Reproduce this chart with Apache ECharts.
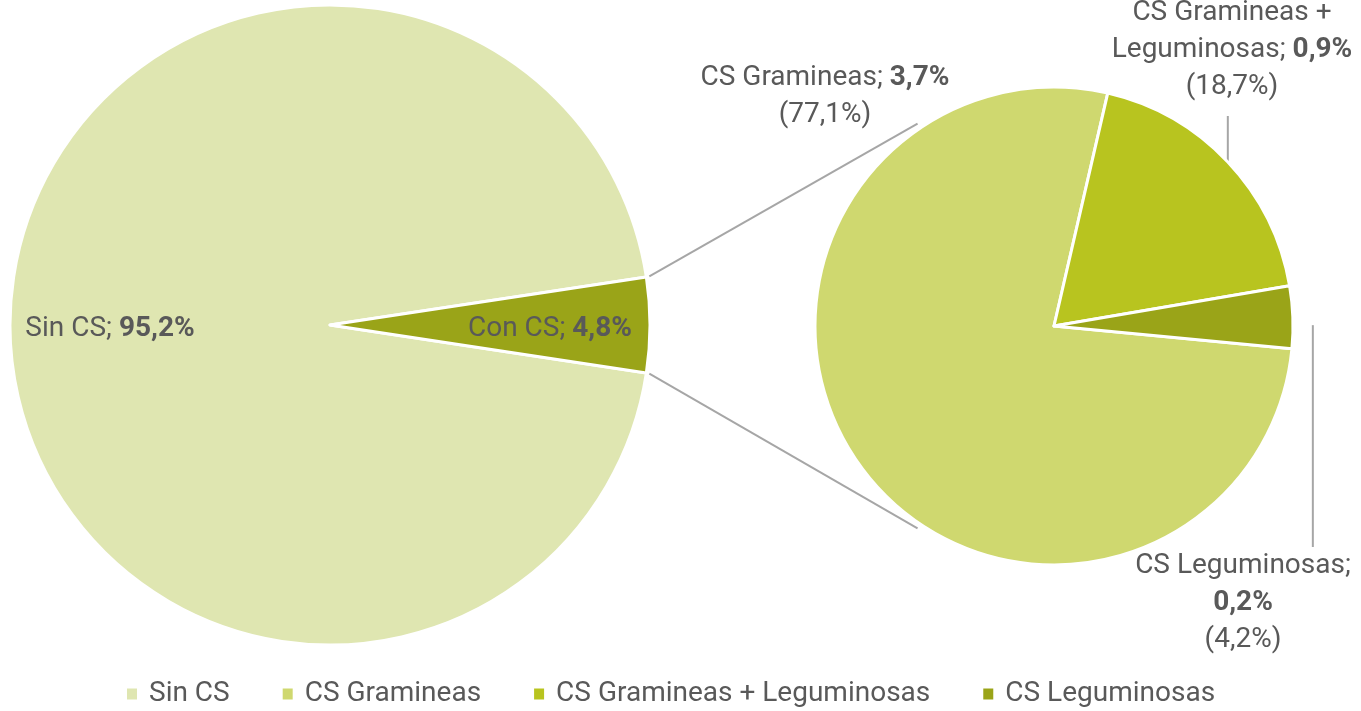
<!DOCTYPE html>
<html>
<head>
<meta charset="utf-8">
<script src="https://cdn.jsdelivr.net/npm/echarts@6/dist/echarts.min.js"></script>
<style>
  html, body { margin: 0; padding: 0; background: #fff; }
  #chart { width: 1361px; height: 711px; }
</style>
</head>
<body>
<div id="chart"></div>
<script>
// main pie
const mainNames = ['Sin CS', 'Con CS'];
const mainValues = [95.2, 4.8];
// breakdown of "Con CS"
const subNames = ['CS Gramineas', 'CS Gramineas + Leguminosas', 'CS Leguminosas'];
const subValues = [77.1, 18.7, 4.2];      // share inside Con CS
const subTotalShare = [3.7, 0.9, 0.2];    // share of the total
const legendNames = ['Sin CS', 'CS Gramineas', 'CS Gramineas + Leguminosas', 'CS Leguminosas'];

const mainColors = ['#dfe6b1', '#9aa418'];
const subColors = ['#cfd86f', '#b8c41f', '#9aa418'];

const FONT = "Roboto, 'Noto Sans', sans-serif";
const TEXT = '#595959';
const FS = 28;
const LH = 37;

// geometry
const bigC = [330, 325], bigR = 320;
const smallC = [1054, 326], smallR = 239;
const conHalf = 360 * mainValues[1] / 100 / 2;
const mainStart = 360 - conHalf;                 // "Con CS" centred on the right
const subStart = 77 + 360 * subValues[0] / 100 - 360; // gramineas ends at 77deg

const pct = v => v.toFixed(1).replace('.', ',') + '%';

function wrapLabel(name, share, maxChars) {
  const words = (name + '; ' + share).split(' ');
  const lines = [];
  let cur = '';
  words.forEach(w => {
    if (cur && (cur + ' ' + w).length > maxChars) { lines.push(cur); cur = w; }
    else cur = cur ? cur + ' ' + w : w;
  });
  lines.push(cur);
  return lines.join('\n').replace(share, '{b|' + share + '}');
}

function pt(c, r, deg) {
  const a = deg * Math.PI / 180;
  return [c[0] + r * Math.cos(a), c[1] - r * Math.sin(a)];
}

function connector(sign) {
  const a = pt(bigC, bigR + 3, sign * conHalf);
  const b = pt(smallC, smallR + 5, sign * 124);
  return {
    type: 'line',
    silent: true,
    shape: { x1: a[0], y1: a[1], x2: b[0], y2: b[1] },
    style: { stroke: '#a6a6a6', lineWidth: 2 }
  };
}

const chart = echarts.init(document.getElementById('chart'));

const boldRich = { b: { fontFamily: FONT, fontSize: FS, fontWeight: 'bold', color: TEXT, lineHeight: LH } };

const option = {
  animation: false,
  legend: {
    data: legendNames,
    top: 680,
    left: 125,
    padding: 0,
    icon: 'rect',
    itemWidth: 12,
    itemHeight: 13,
    itemGap: 51,
    textStyle: { fontFamily: FONT, fontSize: FS, color: TEXT, padding: [0, 0, 0, 6] }
  },
  graphic: [connector(1), connector(-1)],
  series: [
    {
      name: 'main',
      type: 'pie',
      center: bigC,
      radius: bigR,
      startAngle: mainStart,
      clockwise: true,
      silent: true,
      itemStyle: { borderColor: '#fff', borderWidth: 3 },
      label: { show: false },
      labelLine: { show: false },
      data: mainNames.map((n, i) => ({ name: n, value: mainValues[i], itemStyle: { color: mainColors[i] } }))
    },
    {
      // label carrier for the main pie (puts labels at ~0.68 r)
      name: 'mainLabels',
      type: 'pie',
      center: bigC,
      radius: [114, bigR],
      startAngle: mainStart,
      clockwise: true,
      silent: true,
      itemStyle: { color: 'rgba(0,0,0,0)', borderWidth: 0 },
      label: {
        show: true,
        position: 'inside',
        fontFamily: FONT,
        fontSize: FS,
        color: TEXT,
        offset: [0, 4],
        formatter: p => p.name + '; {b|' + pct(p.value) + '}',
        rich: boldRich
      },
      labelLine: { show: false },
      data: mainNames.map((n, i) => ({ name: n, value: mainValues[i] }))
    },
    {
      name: 'sub',
      type: 'pie',
      center: smallC,
      radius: smallR,
      startAngle: subStart,
      clockwise: true,
      silent: true,
      avoidLabelOverlap: false,
      itemStyle: { borderColor: '#fff', borderWidth: 3 },
      label: {
        show: true,
        position: 'outside',
        fontFamily: FONT,
        fontSize: FS,
        lineHeight: LH,
        color: TEXT,
        align: 'center',
        formatter: p => wrapLabel(p.name, pct(subTotalShare[p.dataIndex]), 18) + '\n(' + pct(p.value) + ')',
        rich: boldRich
      },
      labelLine: { show: true, lineStyle: { color: '#a6a6a6', width: 2 } },
      labelLayout: function (p) {
        const p0 = p.labelLinePoints ? p.labelLinePoints[0] : [0, 0];
        if (p.dataIndex === 0) {
          return { x: 825, y: 96, align: 'center', verticalAlign: 'middle' };
        }
        if (p.dataIndex === 1) {
          return { x: 1232, y: 50, align: 'center', verticalAlign: 'middle',
            labelLinePoints: [[p0[0], p0[1]], [p0[0], 116], [p0[0], 116]] };
        }
        return { x: 1243, y: 603, align: 'center', verticalAlign: 'middle',
          labelLinePoints: [[p0[0] + 20, p0[1] + 8], [p0[0] + 20, 547], [p0[0] + 20, 547]] };
      },
      data: subNames.map((n, i) => ({
        name: n,
        value: subValues[i],
        itemStyle: { color: subColors[i] },
        labelLine: { show: i !== 0 }
      }))
    }
  ]
};

chart.setOption(option);
</script>
</body>
</html>
